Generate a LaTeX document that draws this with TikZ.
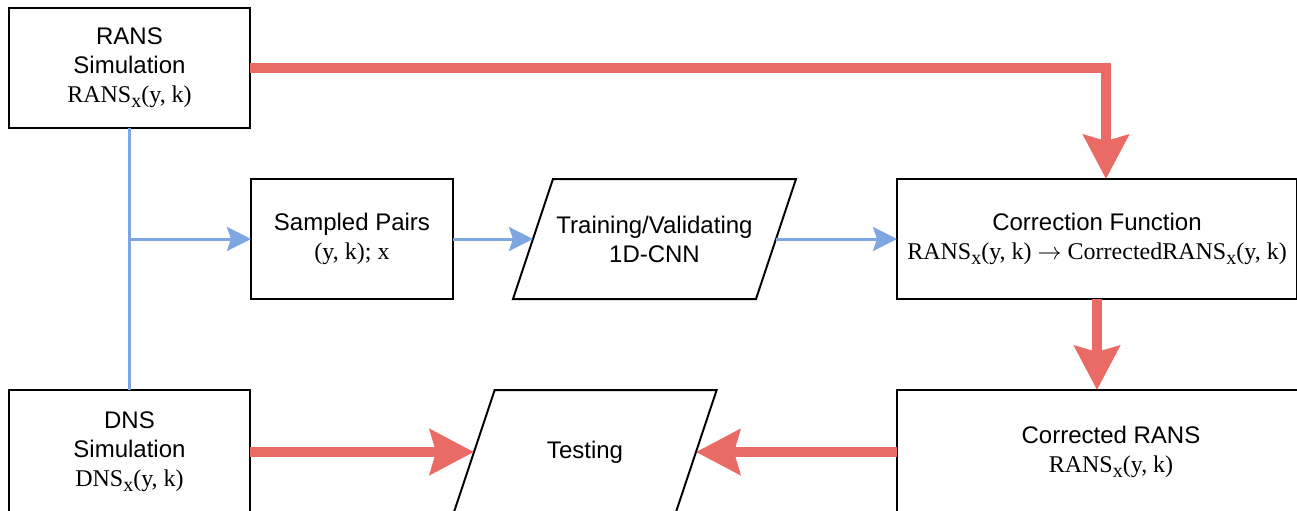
\documentclass[tikz,border=0pt]{standalone}
\usepackage{fontspec}
\setmainfont{Liberation Serif}
\newfontfamily\sansf{Liberation Sans}
\usetikzlibrary{arrows.meta,calc}
\definecolor{flowred}{HTML}{EA6B66}
\definecolor{flowblue}{HTML}{7EA6E0}
\newcommand{\sx}{\raisebox{-2.5pt}{\fontsize{10}{10}\selectfont x}}
\tikzset{
  textnode/.style={align=center, inner sep=0pt, outer sep=0pt,
    font=\sansf\fontsize{12}{14.5}\selectfont},
  boxnode/.style={textnode, draw, line width=1pt},
  outline/.style={draw, line width=1pt, line join=miter},
  redflow/.style={draw=flowred, line width=5pt,
    -{Stealth[length=22pt, width=22.5pt, inset=3pt, fill=flowred]}},
  blueflow/.style={draw=flowblue, line width=1.5pt,
    -{Stealth[length=12pt, width=12pt, inset=2pt, fill=flowblue]}},
  blueline/.style={draw=flowblue, line width=1.5pt}
}
\begin{document}
\begin{tikzpicture}[x=0.5pt,y=-0.5pt]
\useasboundingbox (0,0) rectangle (1297,510);
\clip (0,0) rectangle (1297,510);
\fill[white] (0,0) rectangle (1297,510);
\node[boxnode, minimum width=120.5pt, minimum height=60pt] (rans) at (129.5,68)
  {RANS\\Simulation\\{\rmfamily RANS\sx(y, k)}};
\node[boxnode, minimum width=120.5pt, minimum height=62pt] (dns) at (129.5,452)
  {DNS\\Simulation\\{\rmfamily DNS\sx(y, k)}};
\node[boxnode, minimum width=101pt, minimum height=60pt] (sampled) at (352,239)
  {Sampled Pairs\\{\rmfamily (y, k); x}};
\node[textnode, minimum width=121.5pt, minimum height=60pt] (training) at (654.5,239)
  {Training/Validating\\1D-CNN};
\draw[outline] ($(training.south west)+(-20,0)$) -- ($(training.north west)+(20,0)$)
  -- ($(training.north east)+(20,0)$) -- ($(training.south east)+(-20,0)$) -- cycle;
\node[boxnode, minimum width=200pt, minimum height=60pt] (correction) at (1097,239)
  {Correction Function\\{\rmfamily RANS\sx(y, k) $\rightarrow$ CorrectedRANS\sx(y, k)}};
\node[boxnode, minimum width=214pt, minimum height=62pt] (corrected) at (1111,452)
  {Corrected RANS\\{\rmfamily RANS\sx(y, k)}};
\node[textnode, minimum width=111pt, minimum height=62pt] (testing) at (585,452)
  {Testing};
\draw[outline] ($(testing.south west)+(-20.67,0)$) -- ($(testing.north west)+(20.67,0)$)
  -- ($(testing.north east)+(20.67,0)$) -- ($(testing.south east)+(-20.67,0)$) -- cycle;
% blue connectors
\coordinate (branch) at (rans.south |- sampled.west);
\draw[blueline] (rans.south) -- (dns.north);
\draw[blueflow] (branch) -- (sampled.west);
\draw[blueflow] (sampled.east) -- (training.west);
\draw[blueflow] (training.east) -- (correction.west);
% red connectors
\draw[redflow] (rans.east) -| ([xshift=4.5pt]correction.north);
\draw[redflow] (correction.south) -- (correction.south |- corrected.north);
\draw[redflow] (dns.east) -- (testing.west);
\draw[redflow] (corrected.west) -- (testing.east);
\end{tikzpicture}
\end{document}
